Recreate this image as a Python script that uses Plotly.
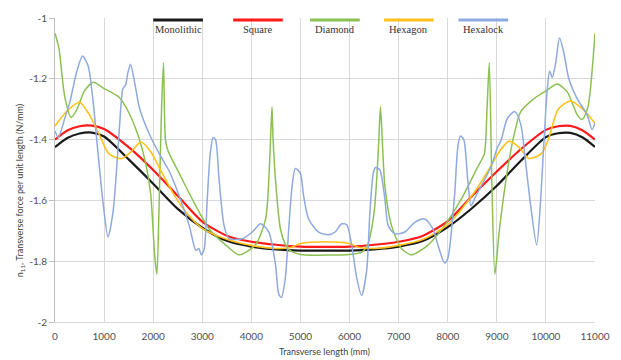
import plotly.graph_objects as go

# ---------------- data ----------------
series_names = ["Monolithic", "Square", "Diamond", "Hexagon", "Hexalock"]

mono_x = [0, 250, 500, 750, 1000, 1500, 2000, 2500, 3000, 3500, 4000, 4500, 5000, 5500,
          6000, 6500, 7000, 7500, 8000, 8500, 9000, 9500, 10000, 10250, 10500, 10750, 11000]
mono_y = [-1.425, -1.395, -1.380, -1.377, -1.390, -1.465, -1.545, -1.628, -1.690, -1.733, -1.752,
          -1.761, -1.765, -1.765, -1.765, -1.761, -1.752, -1.733, -1.688, -1.625, -1.552, -1.468,
          -1.392, -1.379, -1.378, -1.393, -1.424]

square_x = mono_x
square_y = [-1.400, -1.370, -1.356, -1.354, -1.365, -1.425, -1.500, -1.585, -1.670, -1.716, -1.736,
            -1.746, -1.752, -1.753, -1.752, -1.746, -1.736, -1.716, -1.668, -1.585, -1.505, -1.430,
            -1.368, -1.356, -1.355, -1.370, -1.400]

diamond_x = [0, 80, 200, 330, 450, 600, 780, 1000, 1300, 1500, 1700, 1850, 1950, 2030, 2075,
             2120, 2170, 2210, 2250, 2300, 2530, 2800, 3140, 3480, 3750, 4080, 4290, 4370, 4420,
             4440, 4500, 4600, 4750, 5000, 5500, 6000, 6250, 6364, 6500, 6566, 6600, 6630, 6720,
             6855, 7057, 7260, 7597, 7935, 8272, 8610, 8745, 8800, 8846, 8900, 8961, 9050, 9218,
             9353, 9488, 9758, 10000, 10231, 10434, 10636, 10737, 10850, 11000]
diamond_y = [-1.050, -1.100, -1.260, -1.327, -1.300, -1.240, -1.211, -1.232, -1.260, -1.310,
             -1.390, -1.480, -1.580, -1.780, -1.843, -1.620, -1.300, -1.147, -1.400, -1.436,
             -1.511, -1.597, -1.694, -1.747, -1.779, -1.747, -1.661, -1.480, -1.292, -1.390,
             -1.550, -1.700, -1.760, -1.778, -1.780, -1.778, -1.770, -1.747, -1.640, -1.495,
             -1.390, -1.292, -1.554, -1.683, -1.758, -1.779, -1.747, -1.683, -1.597, -1.490,
             -1.447, -1.300, -1.147, -1.550, -1.843, -1.700, -1.500, -1.383, -1.308, -1.265,
             -1.240, -1.217, -1.243, -1.318, -1.334, -1.297, -1.050]

hexagon_x = [0, 250, 500, 700, 900, 1100, 1350, 1550, 1750, 1950, 2150, 2400, 2700, 3000, 3500,
             4000, 4500, 4800, 5000, 5500, 6000, 6200, 6500, 7000, 7500, 8000, 8300, 8600, 8850,
             9050, 9250, 9450, 9650, 9900, 10050, 10250, 10500, 10750, 11000]
hexagon_y = [-1.355, -1.305, -1.277, -1.318, -1.383, -1.447, -1.463, -1.440, -1.408, -1.440,
             -1.500, -1.575, -1.645, -1.692, -1.728, -1.748, -1.758, -1.755, -1.742, -1.736,
             -1.742, -1.755, -1.758, -1.748, -1.728, -1.680, -1.625, -1.560, -1.495, -1.440,
             -1.405, -1.425, -1.462, -1.447, -1.400, -1.300, -1.273, -1.300, -1.347]

hexalock_x = [0, 67, 200, 304, 439, 561, 675, 777, 878, 979, 1080, 1181, 1249, 1317, 1384, 1440,
              1486, 1540, 1621, 1722, 1925, 2127, 2330, 2532, 2735, 2870, 2930, 2980, 3039, 3100,
              3160, 3221, 3270, 3343, 3444, 3545, 3815, 4018, 4187, 4356, 4491, 4558, 4612, 4693,
              4761, 4829, 4896, 4997, 5065, 5166, 5369, 5571, 5706, 5841, 5943, 6043, 6145, 6246,
              6347, 6415, 6483, 6530, 6618, 6720, 6787, 6922, 7125, 7328, 7530, 7699, 7800, 7935,
              8003, 8138, 8205, 8259, 8327, 8408, 8475, 8560, 8677, 8880, 9015, 9083, 9218, 9367,
              9488, 9589, 9690, 9812, 9893, 9961, 10029, 10076, 10130, 10197, 10278, 10366, 10467,
              10636, 10838, 10940, 11000]
hexalock_y = [-1.372, -1.393, -1.330, -1.276, -1.179, -1.125, -1.158, -1.276, -1.447, -1.608,
              -1.720, -1.640, -1.511, -1.350, -1.232, -1.220, -1.179, -1.152, -1.211, -1.297,
              -1.383, -1.447, -1.505, -1.586, -1.683, -1.765, -1.758, -1.779, -1.760, -1.600,
              -1.450, -1.393, -1.400, -1.533, -1.683, -1.726, -1.726, -1.704, -1.677, -1.704,
              -1.811, -1.908, -1.919, -1.854, -1.694, -1.554, -1.495, -1.511, -1.586, -1.661,
              -1.704, -1.713, -1.704, -1.677, -1.680, -1.747, -1.854, -1.913, -1.833, -1.640,
              -1.511, -1.492, -1.500, -1.597, -1.683, -1.710, -1.704, -1.672, -1.661, -1.694,
              -1.747, -1.806, -1.790, -1.586, -1.425, -1.388, -1.400, -1.533, -1.618, -1.590,
              -1.554, -1.490, -1.425, -1.404, -1.329, -1.308, -1.350, -1.479, -1.618, -1.747,
              -1.597, -1.404, -1.232, -1.174, -1.195, -1.150, -1.066, -1.115, -1.200, -1.265,
              -1.318, -1.367, -1.345]

x_tickvals = [0, 1000, 2000, 3000, 4000, 5000, 6000, 7000, 8000, 9000, 10000, 11000]
x_ticktext = ["0", "1000", "2000", "3000", "4000", "5000", "6000", "7000", "8000", "9000",
              "10000", "11000"]
y_tickvals = [-2, -1.8, -1.6, -1.4, -1.2, -1]
y_ticktext = ["-2", "-1.8", "-1.6", "-1.4", "-1.2", "-1"]

x_title = "Transverse length (mm)"
y_title = "n<sub>11</sub>, Transverse force per unit length (N/mm)"

# ---------------- style ----------------
colors = ["#1a1a1a", "#ff1a1a", "#8cc152", "#ffc21a", "#8eaadf"]
widths = [2.2, 2.2, 1.5, 1.6, 1.5]

ML, MR, MT, MB = 55, 22, 11, 38
W, H = 621, 360
PW, PH = W - ML - MR, H - MT - MB


def px2x(px):
    return (px - ML) / PW


def py2y(py):
    return (H - MB - py) / PH


fig = go.Figure()
all_x = [mono_x, square_x, diamond_x, hexagon_x, hexalock_x]
all_y = [mono_y, square_y, diamond_y, hexagon_y, hexalock_y]
for name, xs, ys, c, w in zip(series_names, all_x, all_y, colors, widths):
    fig.add_trace(go.Scatter(x=xs, y=ys, name=name, mode="lines",
                             line=dict(color=c, width=w, shape="spline", smoothing=0.7),
                             showlegend=False))

grid = "#d9d9d9"
tickfont = dict(family="Lato", size=10, color="#505050")

fig.update_layout(
    width=W, height=H,
    margin=dict(l=ML, r=MR, t=MT, b=MB),
    paper_bgcolor="white", plot_bgcolor="white",
    xaxis=dict(range=[0, 11000], tickvals=x_tickvals, ticktext=x_ticktext,
               showgrid=True, gridcolor=grid, gridwidth=1,
               showline=True, linecolor=grid, linewidth=1,
               ticks="outside", ticklen=5, tickcolor="rgba(0,0,0,0)",
               tickfont=tickfont, zeroline=False, fixedrange=True),
    yaxis=dict(range=[-2, -1], tickvals=y_tickvals, ticktext=y_ticktext,
               showgrid=True, gridcolor=grid, gridwidth=1,
               showline=True, linecolor="#bfbfbf", linewidth=1,
               ticks="outside", ticklen=5, tickcolor="#bfbfbf",
               tickfont=tickfont, zeroline=False, fixedrange=True),
)

# legend box (white, hiding gridlines) with line samples above names
legend_centers = [179, 259.5, 337, 411.5, 486.5]
fig.add_shape(type="rect", xref="paper", yref="paper",
              x0=px2x(148), x1=px2x(519), y0=py2y(31), y1=py2y(0),
              fillcolor="white", line=dict(width=0), layer="between")
for name, c, cx in zip(series_names, colors, legend_centers):
    fig.add_shape(type="line", xref="paper", yref="paper",
                  x0=px2x(cx - 25), x1=px2x(cx + 25), y0=py2y(13), y1=py2y(13),
                  line=dict(color=c, width=3), layer="above")
    fig.add_annotation(x=px2x(cx), y=py2y(23), xref="paper", yref="paper",
                       text=name, showarrow=False, xanchor="center", yanchor="middle",
                       font=dict(family="Liberation Serif", size=10.5, color="#333333"))

fig.add_annotation(x=px2x(326), y=py2y(352), xref="paper", yref="paper", text=x_title,
                   showarrow=False, xanchor="center", yanchor="middle",
                   font=dict(family="Lato", size=9, color="#404040"))
fig.add_annotation(x=px2x(20), y=py2y(188), xref="paper", yref="paper", text=y_title,
                   showarrow=False, textangle=-90, xanchor="center", yanchor="middle",
                   font=dict(family="Lato", size=9, color="#404040"))

fig.write_html("out.html")
